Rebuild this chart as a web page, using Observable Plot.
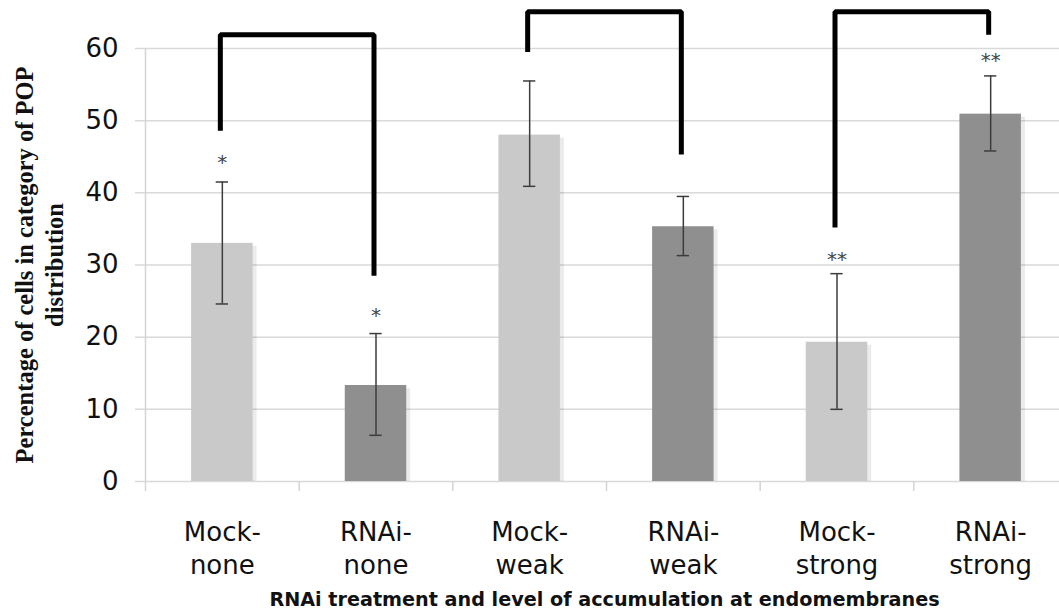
<!DOCTYPE html>
<html>
<head>
<meta charset="utf-8">
<script src="https://cdn.jsdelivr.net/npm/d3@7"></script>
<script src="https://cdn.jsdelivr.net/npm/@observablehq/plot@0.6"></script>
<style>
  html, body { margin: 0; padding: 0; background: #fff; overflow: hidden; }
</style>
</head>
<body>
<div id="chart"></div>
<script>
// ---- data ----
const categories = ["Mock-\nnone", "RNAi-\nnone", "Mock-\nweak", "RNAi-\nweak", "Mock-\nstrong", "RNAi-\nstrong"];
const groups = ["Mock", "RNAi", "Mock", "RNAi", "Mock", "RNAi"];
const values = [33.0, 13.3, 48.0, 35.3, 19.3, 50.9];
const errLow = [24.6, 6.4, 40.9, 31.3, 10.0, 45.8];
const errHigh = [41.5, 20.5, 55.5, 39.5, 28.8, 56.2];
const stars = ["*", "*", "", "", "**", "**"];
const starY = [44.9, 23.7, null, null, 31.5, 59.0];
const yTicks = [0, 10, 20, 30, 40, 50, 60];
// significance brackets (category index and heights in % units)
const bracketLeft = [0, 2, 4];
const bracketRight = [1, 3, 5];
const bracketLeftY = [48.6, 59.5, 35.2];
const bracketTopY = [61.9, 65.1, 65.1];
const bracketRightY = [28.5, 45.3, 61.9];
const yTitle = "Percentage of cells in category of POP\ndistribution";
const xTitle = "RNAi treatment and level of accumulation at endomembranes";

// ---- derived tables ----
const table = categories.map((label, i) => ({
  i, label, group: groups[i], value: values[i], lo: errLow[i], hi: errHigh[i],
  star: stars[i], starY: starY[i]
}));
const boundaries = d3.range(categories.length + 1).map(k => k - 0.5);
const bracketPts = bracketLeft.flatMap((l, b) => [
  {b, x: l, y: bracketLeftY[b]},
  {b, x: l, y: bracketTopY[b]},
  {b, x: bracketRight[b], y: bracketTopY[b]},
  {b, x: bracketRight[b], y: bracketRightY[b]}
]);
const halfBar = 0.2, halfCap = 0.04;

const chart = Plot.plot({
  width: 1059,
  height: 611,
  marginLeft: 145,
  marginRight: 0,
  marginTop: 48,
  marginBottom: 130,
  style: {fontFamily: "DejaVu Sans", color: "#111", background: "#fff", overflow: "visible"},
  x: {type: "linear", domain: [-0.5, categories.length - 0.5], range: [145, 1067], axis: null},
  y: {domain: [0, 60], range: [481, 48], axis: null},
  color: {domain: ["Mock", "RNAi"], range: ["#c9c9c9", "#8f8f8f"]},
  marks: [
    Plot.ruleY(yTicks, {y: d => d, stroke: "#d9d9d9", strokeWidth: 1.5, insetLeft: -10}),
    Plot.ruleX([-0.5], {x: d => d, stroke: "#d4d4d4", strokeWidth: 1.5}),
    Plot.axisX({ticks: boundaries, tickSize: 10, tickFormat: () => "", stroke: "#d4d4d4", strokeWidth: 1.5, label: null}),
    Plot.axisY({ticks: yTicks, tickSize: 0, tickPadding: 27, fontSize: 26, label: null, fill: "#111"}),
    // bar shadows
    Plot.rectY(table, {x1: d => d.i - halfBar, x2: d => d.i + halfBar, y: "value", fill: "#000", fillOpacity: 0.08, dx: 4, dy: 3, insetBottom: 3}),
    // bars
    Plot.rectY(table, {x1: d => d.i - halfBar, x2: d => d.i + halfBar, y: "value", fill: "group"}),
    // error bars
    Plot.ruleX(table, {x: "i", y1: "hi", y2: "lo", stroke: "#3c3c3c", strokeWidth: 1.5}),
    Plot.ruleY(table, {y: "hi", x1: d => d.i - halfCap, x2: d => d.i + halfCap, stroke: "#3c3c3c", strokeWidth: 1.5}),
    Plot.ruleY(table, {y: "lo", x1: d => d.i - halfCap, x2: d => d.i + halfCap, stroke: "#3c3c3c", strokeWidth: 1.5}),
    // significance stars
    Plot.text(table.filter(d => d.star), {x: "i", y: "starY", text: "star", fontSize: 20, fill: "#444", dy: 5}),
    // brackets
    Plot.line(bracketPts, {x: "x", y: "y", z: "b", stroke: "#000", strokeWidth: 5, strokeLinejoin: "miter", strokeLinecap: "butt", dx: -2}),
    // category labels
    Plot.text(table, {x: "i", y: () => 0, text: "label", lineAnchor: "top", dy: 35, fontSize: 26, lineHeight: 1.3, fill: "#111"}),
    // axis titles
    Plot.text([xTitle], {text: d => d, frameAnchor: "bottom", lineAnchor: "middle", dx: 2, dy: 118, fontSize: 19.2, fontWeight: "bold", fill: "#111"}),
    Plot.text([yTitle], {text: d => d, frameAnchor: "left", rotate: -90, textAnchor: "middle", dx: -134, lineAnchor: "top", fontSize: 24.5, lineHeight: 1.22, fontWeight: "bold", fontFamily: "Liberation Serif", fill: "#111"})
  ]
});
document.getElementById("chart").appendChild(chart);
</script>
</body>
</html>
